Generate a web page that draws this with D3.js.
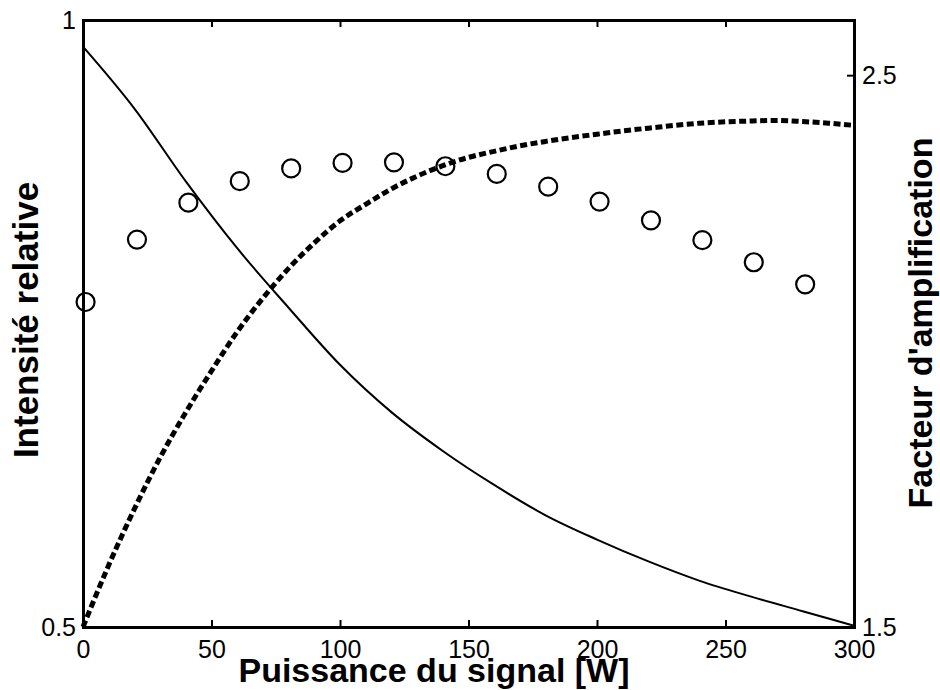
<!DOCTYPE html>
<html>
<head>
<meta charset="utf-8">
<script src="https://cdn.jsdelivr.net/npm/d3@7"></script>
<style>
  html, body { margin: 0; padding: 0; background: #fff; }
  svg { display: block; }
  text { font-family: "Liberation Sans", Arial, Helvetica, sans-serif; fill: #000; }
</style>
</head>
<body>
<svg id="chart" width="940" height="690"></svg>
<script>
// ---- data ----
const powerW = [0, 20, 40, 60, 80, 100, 120, 140, 160, 180, 200, 220, 240, 260, 280, 300];
const intensity = [0.978, 0.927, 0.867, 0.812, 0.763, 0.716, 0.677, 0.645, 0.617, 0.592, 0.572, 0.554, 0.538, 0.525, 0.513, 0.501];

const gainX = [0, 10, 20, 30, 40, 50, 60, 70, 80, 90, 100, 110, 120, 130, 140, 150, 160, 170, 180, 190, 200, 210, 220, 240, 260, 270, 280, 290, 300];
const gainY = [1.50, 1.612, 1.714, 1.807, 1.889, 1.964, 2.035, 2.096, 2.150, 2.196, 2.236, 2.266, 2.294, 2.317, 2.336, 2.351, 2.362, 2.372, 2.380, 2.387, 2.393, 2.399, 2.404, 2.413, 2.417, 2.418, 2.416, 2.413, 2.409];

const circleX = [1, 21, 41, 61, 81, 101, 121, 141, 161, 181, 201, 221, 241, 261, 281];
const circleY = [2.089, 2.202, 2.269, 2.308, 2.331, 2.341, 2.342, 2.335, 2.321, 2.298, 2.271, 2.237, 2.201, 2.161, 2.121];

const xTicks = [0, 50, 100, 150, 200, 250, 300];
const leftTicks = [0.5, 1];
const rightTicks = [1.5, 2.5];

const xTitle = "Puissance du signal [W]";
const leftTitle = "Intensité relative";
const rightTitle = "Facteur d'amplification";

// ---- layout ----
const L = 83, R = 854, T = 20, B = 627;
const svg = d3.select("#chart");

const x = d3.scaleLinear().domain([0, 300]).range([L, R]);
const yL = d3.scaleLinear().domain([0.5, 1]).range([B, T]);
const yR = d3.scaleLinear().domain([1.5, 2.6]).range([B, T]);

const tickFont = 25;

// bottom axis
const gB = svg.append("g").attr("transform", `translate(0,${B})`)
  .call(d3.axisBottom(x).tickValues(xTicks).tickSizeInner(-7).tickSizeOuter(0).tickPadding(13).tickFormat(d3.format("d")));
// top axis (ticks only)
const gT = svg.append("g").attr("transform", `translate(0,${T})`)
  .call(d3.axisTop(x).tickValues(xTicks).tickSizeInner(-7).tickSizeOuter(0).tickFormat(""));
// left axis
const gL = svg.append("g").attr("transform", `translate(${L},0)`)
  .call(d3.axisLeft(yL).tickValues(leftTicks).tickSizeInner(-7).tickSizeOuter(0).tickPadding(7).tickFormat(d => d === 1 ? "1" : "0.5"));
// right axis
const gR = svg.append("g").attr("transform", `translate(${R},0)`)
  .call(d3.axisRight(yR).tickValues(rightTicks).tickSizeInner(-7).tickSizeOuter(0).tickPadding(8).tickFormat(d3.format(".1f")));

[gB, gT, gL, gR].forEach(g => {
  g.select(".domain").attr("stroke", "#000").attr("stroke-width", 3);
  g.selectAll(".tick line").attr("stroke", "#000").attr("stroke-width", 2);
  g.selectAll(".tick text").attr("font-size", tickFont)
    .attr("font-family", "'Liberation Sans', Arial, Helvetica, sans-serif").attr("fill", "#000");
});
svg.selectAll(".domain").attr("stroke-linecap", "square");

// ---- series ----
const solid = d3.line().x((d, i) => x(powerW[i])).y(d => yL(d)).curve(d3.curveMonotoneX);
svg.append("path").attr("d", solid(intensity))
  .attr("fill", "none").attr("stroke", "#000").attr("stroke-width", 2);

const dashed = d3.line().x((d, i) => x(gainX[i])).y(d => yR(d)).curve(d3.curveMonotoneX);
svg.append("path").attr("d", dashed(gainY))
  .attr("fill", "none").attr("stroke", "#000").attr("stroke-width", 5)
  .attr("stroke-dasharray", "7,3.5");

svg.append("g").selectAll("circle").data(circleY).join("circle")
  .attr("cx", (d, i) => x(circleX[i])).attr("cy", d => yR(d)).attr("r", 9)
  .attr("fill", "none").attr("stroke", "#000").attr("stroke-width", 2.2);

// ---- titles ----
svg.append("text").attr("x", 434).attr("y", 682).attr("text-anchor", "middle")
  .attr("font-size", 34).attr("font-weight", "bold").text(xTitle);
svg.append("text").attr("transform", "translate(38,320) rotate(-90)").attr("text-anchor", "middle")
  .attr("font-size", 35).attr("font-weight", "bold").text(leftTitle);
svg.append("text").attr("transform", "translate(932,323) rotate(-90)").attr("text-anchor", "middle")
  .attr("font-size", 34).attr("font-weight", "bold").text(rightTitle);
</script>
</body>
</html>
